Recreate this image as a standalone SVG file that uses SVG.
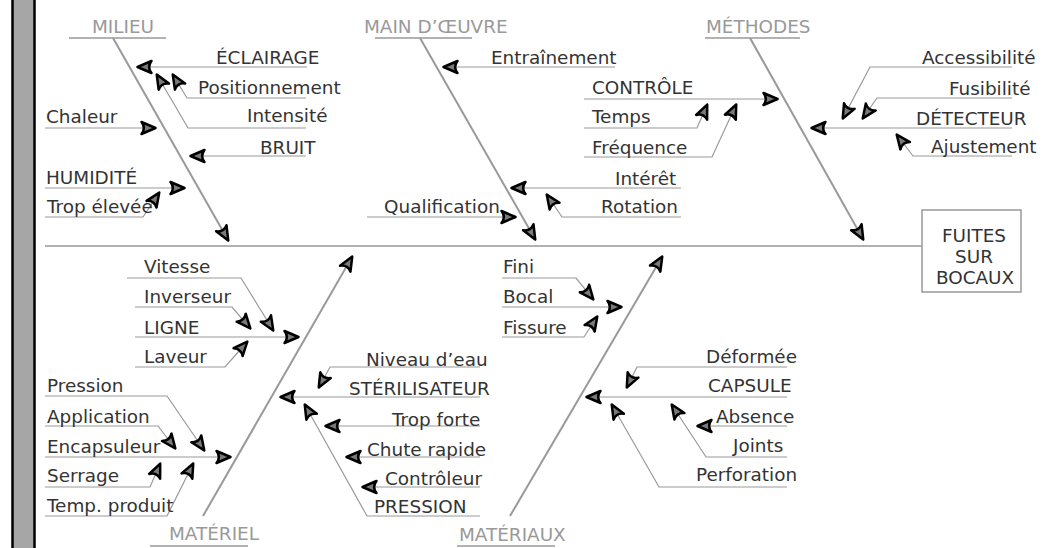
<svg xmlns="http://www.w3.org/2000/svg" width="1043" height="548" viewBox="0 0 1043 548">
<style>
text{font-family:"DejaVu Sans","Liberation Sans",sans-serif;font-size:18.4px;fill:#333}
.cat{fill:#999}
.bone{fill:none;stroke:#999;stroke-width:2}
.sub{fill:none;stroke:#999;stroke-width:1.2}
.ul{fill:none;stroke:#999;stroke-width:1.5}
.arr{marker-end:url(#ah)}
</style>
<defs>
<marker id="ah" markerUnits="userSpaceOnUse" markerWidth="22" markerHeight="18" viewBox="-18 -9 22 18" refX="0" refY="0" orient="auto" overflow="visible">
<path d="M0.5,0 L-13.5,-6 C-10.5,-2.2 -10.5,2.2 -13.5,6 Z" fill="#7a7a7a" stroke="#000" stroke-width="2.5" stroke-linejoin="round"/>
</marker>
</defs>
<rect x="0" y="0" width="1043" height="548" fill="#fff"/>
<rect x="12.5" y="-3" width="22" height="554" fill="#a6a6a6" stroke="#000" stroke-width="2.5"/>

<g id="connectors">
<line class="ul" x1="45" y1="246" x2="922" y2="246"/>
<line class="bone arr" x1="113" y1="38" x2="228" y2="240"/>
<line class="bone arr" x1="420" y1="38" x2="535" y2="239"/>
<line class="bone arr" x1="750" y1="38" x2="863" y2="239"/>
<line class="bone arr" x1="203" y1="516" x2="352" y2="257"/>
<line class="bone arr" x1="510" y1="516" x2="662" y2="257"/>
<!-- MILIEU -->
<polyline class="sub arr" points="307,67 138,67"/>
<polyline class="sub arr" points="306,98 187,98 173,75"/>
<polyline class="sub arr" points="306,128 188,128 157,75"/>
<polyline class="sub arr" points="45,128 155,128"/>
<polyline class="sub arr" points="306,156 191,156"/>
<polyline class="sub arr" points="45,188 184,188"/>
<polyline class="sub arr" points="45,217 143,217 159,193"/>
<!-- MAIN D'OEUVRE -->
<polyline class="sub arr" points="615,67 444,67"/>
<polyline class="sub arr" points="584,99 777,99"/>
<polyline class="sub arr" points="584,128 697,128 707,105"/>
<polyline class="sub arr" points="584,157 712,157 736,105"/>
<polyline class="sub arr" points="681,188 512,188"/>
<polyline class="sub arr" points="681,217 562,217 547,195"/>
<polyline class="sub arr" points="367,217 515,217"/>
<!-- METHODES -->
<polyline class="sub arr" points="1012,67 870,67 843,118"/>
<polyline class="sub arr" points="1012,98 877,98 863,118"/>
<polyline class="sub arr" points="1012,128 812,128"/>
<polyline class="sub arr" points="1012,156 913,156 897,135"/>
<!-- MATERIEL -->
<polyline class="sub arr" points="127,278 241,278 273,330"/>
<polyline class="sub arr" points="135,307 232,307 250,328"/>
<polyline class="sub arr" points="135,337 298,337"/>
<polyline class="sub arr" points="135,367 225,367 247,342"/>
<polyline class="sub arr" points="45,396 167,396 204,450"/>
<polyline class="sub arr" points="45,426 158,426 175,448"/>
<polyline class="sub arr" points="45,457 230,457"/>
<polyline class="sub arr" points="45,487 150,487 160,464"/>
<polyline class="sub arr" points="45,516 167,516 193,464"/>
<polyline class="sub arr" points="480,367 330,367 319,387"/>
<polyline class="sub arr" points="480,397 281,397"/>
<polyline class="sub arr" points="480,426 326,426"/>
<polyline class="sub arr" points="480,457 347,457"/>
<polyline class="sub arr" points="480,487 363,487"/>
<polyline class="sub arr" points="480,516 367,516 305,405"/>
<!-- MATERIAUX -->
<polyline class="sub arr" points="502,278 576,278 593,299"/>
<polyline class="sub arr" points="502,307 621,307"/>
<polyline class="sub arr" points="502,337 584,337 597,317"/>
<polyline class="sub arr" points="787,367 637,367 627,387"/>
<polyline class="sub arr" points="787,397 587,397"/>
<polyline class="sub arr" points="787,426 698,426"/>
<polyline class="sub arr" points="787,457 706,457 672,405"/>
<polyline class="sub arr" points="787,487 659,487 612,405"/>
</g>

<g id="effect">
<rect x="922" y="210" width="99" height="82" fill="#fff" stroke="#999" stroke-width="1.5"/>
<text x="974" y="242" text-anchor="middle">FUITES</text>
<text x="974" y="263" text-anchor="middle">SUR</text>
<text x="975" y="284" text-anchor="middle">BOCAUX</text>
</g>

<g id="milieu">
<line class="ul" x1="69" y1="38" x2="166" y2="38"/>
<text class="cat" x="92" y="33">MILIEU</text>
<text x="216" y="64">ÉCLAIRAGE</text>
<text x="198" y="94">Positionnement</text>
<text x="247" y="122">Intensité</text>
<text x="46" y="123">Chaleur</text>
<text x="260" y="154">BRUIT</text>
<text x="46" y="184">HUMIDITÉ</text>
<text x="47" y="213">Trop élevée</text>
</g>

<g id="main-oeuvre">
<line class="ul" x1="375" y1="38" x2="472" y2="38"/>
<text class="cat" x="364" y="33">MAIN D’ŒUVRE</text>
<text x="491" y="64">Entraînement</text>
<text x="592" y="94">CONTRÔLE</text>
<text x="592" y="123">Temps</text>
<text x="592" y="154">Fréquence</text>
<text x="615" y="185">Intérêt</text>
<text x="601" y="213">Rotation</text>
<text x="384" y="213">Qualification</text>
</g>

<g id="methodes">
<line class="ul" x1="705" y1="38" x2="800" y2="38"/>
<text class="cat" x="706" y="33">MÉTHODES</text>
<text x="922" y="64">Accessibilité</text>
<text x="949" y="95">Fusibilité</text>
<text x="916" y="125">DÉTECTEUR</text>
<text x="931" y="153">Ajustement</text>
</g>

<g id="materiel">
<line class="ul" x1="150" y1="546" x2="248" y2="546"/>
<text class="cat" x="169" y="540">MATÉRIEL</text>
<text x="144" y="273">Vitesse</text>
<text x="144" y="303">Inverseur</text>
<text x="144" y="334">LIGNE</text>
<text x="144" y="363">Laveur</text>
<text x="47" y="392">Pression</text>
<text x="47" y="423">Application</text>
<text x="47" y="453">Encapsuleur</text>
<text x="47" y="482">Serrage</text>
<text x="47" y="512">Temp. produit</text>
<text x="366" y="366">Niveau d’eau</text>
<text x="349" y="395">STÉRILISATEUR</text>
<text x="392" y="426">Trop forte</text>
<text x="367" y="456">Chute rapide</text>
<text x="385" y="485">Contrôleur</text>
<text x="374" y="513">PRESSION</text>
</g>

<g id="materiaux">
<line class="ul" x1="457" y1="546" x2="555" y2="546"/>
<text class="cat" x="459" y="541">MATÉRIAUX</text>
<text x="503" y="273">Fini</text>
<text x="503" y="303">Bocal</text>
<text x="503" y="334">Fissure</text>
<text x="706" y="363">Déformée</text>
<text x="708" y="392">CAPSULE</text>
<text x="716" y="423">Absence</text>
<text x="733" y="452">Joints</text>
<text x="696" y="481">Perforation</text>
</g>
</svg>
